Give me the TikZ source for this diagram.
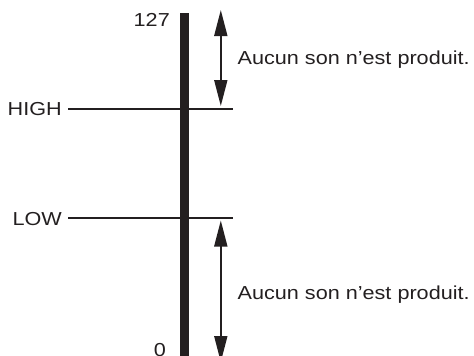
\documentclass[tikz,border=0pt]{standalone}
\usepackage{fontspec}
\setmainfont{Liberation Sans}[FakeStretch=1.15]
\usetikzlibrary{arrows.meta}
\definecolor{ink}{HTML}{231F20}
\tikzset{
  lbl/.style={inner sep=0pt, font=\fontsize{18.8}{22}\selectfont, text=ink},
  lvl/.style={draw=ink, line width=1.7pt},
  spanarrow/.style={draw=ink, line width=1.8pt, {Triangle[length=26pt,width=13pt]}-{Triangle[length=26pt,width=13pt]}},
}
\begin{document}
\begin{tikzpicture}[x=1pt,y=-1pt]
\useasboundingbox (0,0) rectangle (474,356);
% vertical bar
\fill[ink] (179.5,13) rectangle (189,360);
% level lines
\coordinate (hs) at (68,109);
\coordinate (he) at (233.3,109);
\coordinate (ls) at (68,218);
\coordinate (le) at (233.3,218);
\draw[lvl] (hs) -- (he);
\draw[lvl] (ls) -- (le);
% labels
\node[lbl, anchor=base east] (t127) at (170,27) {127};
\node[lbl, anchor=base east] (thigh) at (62,115) {HIGH};
\node[lbl, anchor=base east] (tlow) at (62,225) {LOW};
\node[lbl, anchor=base east] (tzero) at (166,356) {0};
% arrows
\coordinate (a1) at (220.8,10);
\coordinate (a2) at (220.8,106);
\coordinate (b1) at (220.8,220.5);
\coordinate (b2) at (220.8,362);
\draw[spanarrow] (a1) -- (a2);
\draw[spanarrow] (b1) -- (b2);
\node[lbl, anchor=base west] (ttop) at (237.5,64) {Aucun son n’est produit.};
\node[lbl, anchor=base west] (tbot) at (237.5,299) {Aucun son n’est produit.};
\end{tikzpicture}
\end{document}
